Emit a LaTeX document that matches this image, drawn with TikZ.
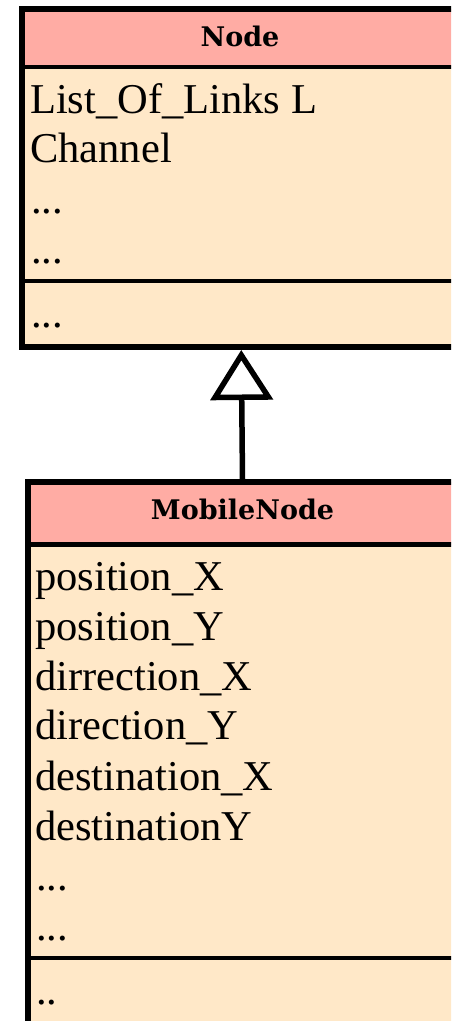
\documentclass[tikz,border=0pt]{standalone}
\usepackage{fontspec}
\setmainfont{Liberation Serif}
\newfontfamily\headfont{DejaVu Serif}
\usetikzlibrary{arrows.meta}
\definecolor{headpink}{RGB}{255,172,164}
\definecolor{bodycream}{RGB}{255,232,200}
\begin{document}
\begin{tikzpicture}[x=1pt,y=1pt,
  classbox/.style={draw=black, line width=6pt, rectangle, inner sep=0pt, fill=none},
  rule/.style={draw=black, line width=4.5pt},
  attr/.style={anchor=base west, inner sep=0pt, font=\fontsize{42.5}{50}\selectfont},
  title/.style={anchor=base, inner sep=0pt, font=\headfont\bfseries\fontsize{27}{32}\selectfont},
  inherit/.style={draw=black, line width=5.5pt, -{Triangle[open, length=50pt, width=62pt]}}]
\fill[white] (0,0) rectangle (451,-1021);
\useasboundingbox (0,0) rectangle (451,-1021);
\begin{scope}
\clip (0,0) rectangle (451,-1021);

% class Node
\fill[headpink] (21.5,-9) rectangle (461,-67);
\fill[bodycream] (21.5,-67) rectangle (461,-347);
\node[classbox, minimum width=439.5pt, minimum height=338pt] (parent) at (241.25,-178) {};
\coordinate (ph) at (21.5,-67);
\coordinate (pm) at (21.5,-281);
\draw[rule] (ph) -- ++(439.5,0);
\draw[rule] (pm) -- ++(439.5,0);
\node[title] (parenttitle) at (240,-46) {Node};
\node[attr] (pa1) at (30,-113) {List\_Of\_Links L};
\node[attr] (pa2) at (30,-162) {Channel};
\node[attr] (pa3) at (31,-213) {...};
\node[attr] (pa4) at (31,-263) {...};
\node[attr] (pm1) at (31,-327) {...};

% class MobileNode
\fill[headpink] (28,-482) rectangle (457,-544.5);
\fill[bodycream] (28,-544.5) rectangle (457,-1090);
\node[classbox, minimum width=429pt, minimum height=608pt] (child) at (242.5,-786) {};
\coordinate (ch) at (28,-544.5);
\coordinate (cm) at (28,-958);
\draw[rule] (ch) -- ++(429,0);
\draw[rule] (cm) -- ++(429,0);
\node[title] (childtitle) at (242.5,-519) {MobileNode};
\node[attr] (ca1) at (35,-590) {position\_X};
\node[attr] (ca2) at (35,-640) {position\_Y};
\node[attr] (ca3) at (35,-690) {dirrection\_X};
\node[attr] (ca4) at (35,-739) {direction\_Y};
\node[attr] (ca5) at (35,-790) {destination\_X};
\node[attr] (ca6) at (35,-840) {destinationY};
\node[attr] (ca7) at (36,-890) {...};
\node[attr] (ca8) at (36,-940) {...};
\node[attr] (cm1) at (36,-1004) {..};

% generalization
\draw[inherit] (child.north) -- (parent.south);
\end{scope}
\end{tikzpicture}
\end{document}
